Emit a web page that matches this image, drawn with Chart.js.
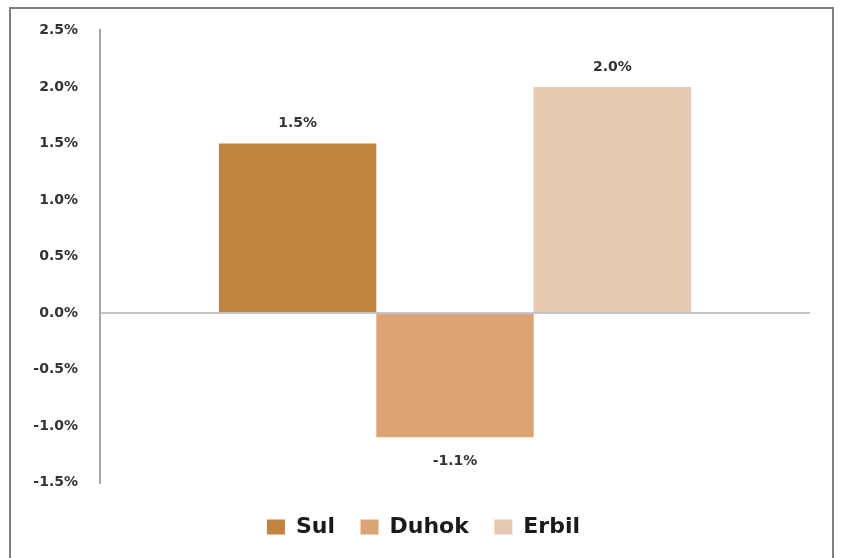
<!DOCTYPE html>
<html>
<head>
<meta charset="utf-8">
<script src="https://cdn.jsdelivr.net/npm/chart.js@4"></script>
<style>
  html, body { margin: 0; padding: 0; background: #fff; overflow: hidden; width: 841px; height: 558px; }
  #frame { position: absolute; left: 9px; top: 7px; width: 821px; height: 600px; border: 2px solid #7f7f7f; background: #fff; }
  #wrap { position: absolute; left: 0; top: 0; width: 841px; height: 548px; }
</style>
</head>
<body>
<div id="frame"></div>
<div id="wrap"><canvas id="c" width="841" height="548"></canvas></div>
<script>
const categories = [''];
const seriesNames = ['Sul', 'Duhok', 'Erbil'];
const sulValues = [1.5];
const duhokValues = [-1.1];
const erbilValues = [2.0];
const seriesColors = ['#C0843F', '#DCA473', '#E6C9B1'];
const yMin = -1.5, yMax = 2.5, yStep = 0.5;

const seriesValues = [sulValues, duhokValues, erbilValues];
const fmt = v => (Math.abs(v) < 1e-9 ? 0 : v).toFixed(1) + '%';

const valueLabels = {
  id: 'valueLabels',
  afterDatasetsDraw(chart) {
    const ctx = chart.ctx;
    ctx.save();
    ctx.font = 'bold 14px "DejaVu Sans"';
    ctx.fillStyle = '#333333';
    ctx.textAlign = 'center';
    ctx.textBaseline = 'middle';
    chart.data.datasets.forEach((ds, i) => {
      const meta = chart.getDatasetMeta(i);
      meta.data.forEach((el, j) => {
        const v = ds.data[j];
        const y = v >= 0 ? el.y - 20 : el.y + 24;
        ctx.fillText(fmt(v), el.x, y);
      });
    });
    ctx.restore();
  }
};

new Chart(document.getElementById('c'), {
  type: 'bar',
  data: {
    labels: categories,
    datasets: seriesNames.map((name, i) => ({
      label: name,
      data: seriesValues[i],
      backgroundColor: seriesColors[i],
      borderWidth: 0,
      categoryPercentage: 0.665,
      barPercentage: 1.0
    }))
  },
  options: {
    responsive: false,
    animation: false,
    devicePixelRatio: 1,
    layout: { padding: { left: 6, right: 0, top: 30, bottom: 0 } },
    plugins: {
      tooltip: { enabled: false },
      legend: {
        position: 'bottom',
        labels: {
          boxWidth: 18,
          boxHeight: 15,
          padding: 25.5,
          color: '#1a1a1a',
          font: { family: '"DejaVu Sans"', size: 22, weight: 'bold' }
        }
      }
    },
    scales: {
      x: {
        display: true,
        ticks: { display: false },
        grid: { display: false },
        border: { display: false },
        afterFit: s => { s.height = 8; }
      },
      y: {
        min: yMin,
        max: yMax,
        afterFit: s => { s.width = 94; },
        ticks: {
          stepSize: yStep,
          padding: 22,
          color: '#333333',
          font: { family: '"DejaVu Sans"', size: 14, weight: 'bold' },
          callback: v => fmt(v)
        },
        grid: {
          drawTicks: false,
          lineWidth: 2,
          color: c => (c.tick && Math.abs(c.tick.value) < 1e-9) ? '#c4c4c4' : 'rgba(0,0,0,0)'
        },
        border: { display: true, color: '#a8a8a8', width: 2 }
      },
      yRight: {
        position: 'right',
        display: true,
        ticks: { display: false },
        grid: { display: false },
        border: { display: false },
        afterFit: s => { s.width = 31; }
      }
    }
  },
  plugins: [valueLabels]
});
</script>
</body>
</html>
